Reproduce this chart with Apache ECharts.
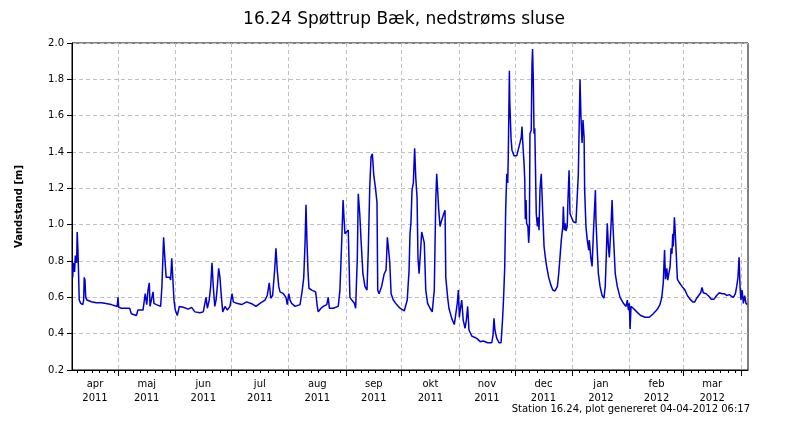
<!DOCTYPE html>
<html>
<head>
<meta charset="utf-8">
<script src="https://cdn.jsdelivr.net/npm/echarts@6/dist/echarts.min.js"></script>
<style>
  html, body { margin: 0; padding: 0; background: #fff; }
  #chart { width: 800px; height: 425px; }
</style>
</head>
<body>
<div id="chart"></div>
<script>
// water level, [days since 2011-04-01, metres]
const levelReadings = [
  // apr - maj
  [5.6,0.71],[5.9,0.79],[6.6,0.74],[7.0,0.83],[7.7,0.79],[8.0,0.96],[8.4,0.86],[8.8,0.71],[9.1,0.585],[9.9,0.567],[11.0,0.56],[11.5,0.585],[11.8,0.71],[12.2,0.695],[12.6,0.60],[13.3,0.585],[15.6,0.576],[18.3,0.57],[21.0,0.57],[22.8,0.567],[26.4,0.56],[29.6,0.55],[30.0,0.60],[30.4,0.545],[31.8,0.54],[36.3,0.54],[37.2,0.51],[39.9,0.50],[40.8,0.53],[43.5,0.53],[44.7,0.62],[45.5,0.56],[46.2,0.64],[46.9,0.68],[47.3,0.55],[48.0,0.585],[48.9,0.63],[49.4,0.567],[50.7,0.56],[53.0,0.55],[53.7,0.66],[54.6,0.93],[55.2,0.93],[55.5,0.78],[56.0,0.71],[57.0,0.70],[57.9,0.71],[58.4,0.695],[59.0,0.815],[59.5,0.805],[60.2,0.585],[60.9,0.53],
  // jun
  [62.0,0.50],[63.1,0.55],[65.2,0.545],[67.9,0.535],[69.7,0.545],[71.5,0.52],[74.2,0.515],[76.0,0.52],[77.5,0.60],[78.2,0.54],[79.2,0.585],[80.0,0.66],[80.7,0.79],[81.4,0.66],[82.2,0.55],[82.9,0.585],[83.6,0.66],[84.3,0.76],[85.0,0.71],[85.7,0.61],[86.5,0.52],[87.7,0.55],[89.0,0.53],[90.4,0.55],
  // jul
  [91.5,0.62],[92.2,0.575],[94.0,0.567],[96.7,0.56],[99.4,0.575],[102.1,0.565],[104.4,0.55],[106.6,0.567],[109.3,0.585],[110.5,0.61],[111.6,0.68],[112.4,0.595],[113.4,0.61],[114.5,0.75],[115.2,0.87],[115.9,0.75],[116.7,0.66],[117.4,0.63],[119.2,0.62],[120.6,0.60],[121.3,0.56],
  // aug
  [122.1,0.62],[122.8,0.585],[123.7,0.567],[125.5,0.55],[128.2,0.56],[129.4,0.64],[130.2,0.71],[130.9,0.90],[131.4,1.11],[131.9,0.915],[132.5,0.74],[133.0,0.65],[134.5,0.64],[136.6,0.63],[137.5,0.55],[138.0,0.52],[139.5,0.54],[140.7,0.55],[142.6,0.56],[143.4,0.60],[144.0,0.54],[146.1,0.54],[148.8,0.55],[149.7,0.64],[150.7,0.915],[151.4,1.136],[151.9,1.04],[152.4,0.95],[153.4,0.96],[154.2,0.97],[154.8,0.96],[155.1,0.60],
  // sep
  [156.1,0.585],[157.5,0.567],[158.2,0.54],[158.5,0.64],[159.1,0.82],[159.6,1.17],[160.4,1.06],[161.1,0.915],[162.1,0.73],[163.2,0.66],[164.3,0.64],[165.0,0.86],[165.8,1.21],[166.5,1.374],[167.2,1.39],[167.9,1.28],[169.0,1.19],[169.7,1.12],[170.1,0.64],[170.8,0.62],[172.2,0.66],[173.6,0.73],[174.6,0.75],[175.3,0.93],[175.8,0.88],[176.6,0.79],[177.3,0.62],[178.5,0.585],[180.3,0.56],[182.1,0.54],
  // okt
  [184.4,0.525],[185.3,0.52],[186.0,0.585],[187.0,0.75],[187.5,0.95],[188.0,1.01],[188.6,1.19],[189.3,1.23],[190.0,1.42],[190.6,1.26],[191.3,1.15],[191.8,0.82],[192.4,0.73],[193.1,0.84],[193.8,0.96],[194.5,0.95],[195.2,0.90],[196.0,0.64],[197.0,0.567],[198.3,0.54],[199.5,0.52],[200.6,0.64],[201.4,1.136],[201.9,1.28],[202.4,1.19],[203.0,1.08],[203.7,0.99],[204.6,1.025],[205.7,1.06],[206.4,1.08],[206.8,0.71],[207.8,0.60],[208.5,0.54],[210.0,0.484],[211.4,0.45],[212.3,0.46],[213.0,0.567],[213.6,0.64],
  // nov
  [214.1,0.49],[214.6,0.53],[215.4,0.585],[216.2,0.475],[217.2,0.43],[217.9,0.475],[218.6,0.55],[219.3,0.42],[220.8,0.387],[223.5,0.374],[225.4,0.356],[227.0,0.36],[229.4,0.35],[231.6,0.35],[232.3,0.393],[232.8,0.484],[233.3,0.42],[234.3,0.374],[235.5,0.35],[236.6,0.35],[237.3,0.457],[238.0,0.60],[238.6,0.77],[239.1,1.08],[239.7,1.28],[240.2,1.23],[240.5,1.374],[241.1,1.847],[241.3,1.686],[241.6,1.594],[242.0,1.475],[242.5,1.41],[243.6,1.38],
  // dec
  [245.1,1.38],[246.1,1.39],[246.8,1.45],[247.5,1.48],[247.9,1.54],[248.3,1.456],[249.0,1.34],[249.4,1.245],[249.7,1.03],[250.1,1.136],[250.4,1.007],[251.1,0.99],[251.5,0.90],[251.9,0.97],[252.2,1.50],[252.9,1.52],[253.3,1.88],[253.6,1.967],[254.0,1.80],[254.4,1.50],[254.8,1.53],[255.3,1.52],[255.6,1.06],[256.2,0.99],[256.7,1.04],[257.1,0.97],[257.6,1.19],[258.0,1.245],[258.3,1.28],[258.7,1.17],[259.1,1.06],[259.8,0.88],[260.5,0.82],[261.2,0.77],[262.3,0.71],[263.4,0.67],[264.5,0.64],[265.7,0.635],[267.0,0.66],[267.7,0.73],[268.4,0.82],[269.1,0.915],[269.9,0.99],[270.2,1.10],[270.7,0.97],[271.3,1.007],[271.6,0.965],[272.3,0.99],[272.7,1.136],[273.3,1.30],[273.8,1.06],[274.5,1.05],
  // jan
  [275.6,1.016],[277.0,1.01],[277.7,1.016],[278.3,1.28],[278.8,1.576],[279.2,1.80],[279.7,1.594],[280.3,1.45],[280.8,1.576],[281.4,1.48],[281.7,1.19],[282.4,0.99],[283.1,0.915],[283.9,0.86],[284.2,0.915],[285.0,0.82],[285.7,0.77],[286.4,0.95],[286.9,1.06],[287.5,1.19],[287.8,1.025],[288.4,0.88],[289.1,0.73],[290.0,0.66],[291.1,0.61],[292.1,0.595],[292.8,0.66],[293.4,0.84],[293.9,1.007],[294.5,0.88],[295.0,0.82],[295.8,0.97],[296.5,1.136],[297.0,0.99],[297.5,0.88],[298.2,0.73],[299.3,0.66],[300.8,0.60],[302.6,0.567],[304.0,0.55],[304.7,0.585],[305.3,0.53],
  // feb
  [305.8,0.567],[306.2,0.425],[306.7,0.55],[307.9,0.54],[309.8,0.52],[311.9,0.50],[314.3,0.49],[316.6,0.49],[318.7,0.51],[320.9,0.534],[322.3,0.56],[323.3,0.60],[324.1,0.68],[324.8,0.86],[325.3,0.70],[326.0,0.76],[326.5,0.695],[327.1,0.70],[327.8,0.77],[328.3,0.87],[328.8,0.84],[329.2,0.95],[329.5,0.88],[330.1,1.04],[330.4,0.99],[331.0,0.86],[331.7,0.70],[332.8,0.68],[334.2,0.66],
  // mar
  [335.8,0.64],[337.1,0.61],[338.5,0.59],[340.0,0.575],[341.1,0.575],[342.1,0.595],[343.2,0.61],[344.3,0.625],[345.0,0.655],[345.7,0.625],[347.2,0.62],[348.6,0.607],[350.0,0.59],[351.5,0.59],[352.9,0.61],[354.3,0.625],[355.8,0.62],[357.2,0.62],[358.3,0.61],[359.7,0.615],[360.8,0.607],[361.9,0.60],[363.0,0.62],[363.7,0.66],[364.4,0.71],[365.0,0.82],[365.5,0.66],[366.0,0.585],[366.6,0.64],[367.3,0.567],[368.0,0.61],[368.7,0.567],[369.4,0.56]
]

const monthNames = ['jan', 'feb', 'mar', 'apr', 'maj', 'jun', 'jul', 'aug', 'sep', 'okt', 'nov', 'dec']
// [year, month index] of every month boundary shown
const monthStarts = [[2011,4],[2011,5],[2011,6],[2011,7],[2011,8],[2011,9],[2011,10],[2011,11],[2012,0],[2012,1],[2012,2],[2012,3]]
const minorTickDays = [4, 8, 12, 16, 20, 24, 28]
const yMin = 0.2
const yMax = 2.0
const yStep = 0.2

const DAY = 86400000
const base = Date.UTC(2011, 3, 1)
const xMin = base + 5.2 * DAY
const xMax = base + 369.8 * DAY

const seriesData = levelReadings.map(r => [base + r[0] * DAY, r[1]])
const majorTicks = monthStarts.map(m => Date.UTC(m[0], m[1], 1))

// label in the middle of each whole (or first, partial) month
const labelValues = []
const edges = [xMin].concat(majorTicks)
for (let i = 0; i < edges.length - 1; i++) {
  labelValues.push((edges[i] + edges[i + 1]) / 2)
}
const minorTicks = []
const firstMonths = [[2011,3]].concat(monthStarts)
firstMonths.forEach(m => {
  minorTickDays.forEach(d => {
    const t = Date.UTC(m[0], m[1], d + 1)
    if (t > xMin && t < xMax && new Date(t).getUTCMonth() === m[1]) minorTicks.push(t)
  })
})

const font = 'DejaVu Sans'
const chart = echarts.init(document.getElementById('chart'))

chart.setOption({
  animation: false,
  backgroundColor: '#fff',
  grid: {
    left: 72,
    right: 52,
    top: 43,
    bottom: 55,
    show: true,
    borderColor: '#000',
    borderWidth: 1
  },
  graphic: [
    {
      type: 'text',
      x: 404,
      y: 20,
      style: {
        text: '16.24 Spøttrup Bæk, nedstrøms sluse',
        font: '17px "' + font + '"',
        fill: '#000',
        align: 'center',
        verticalAlign: 'middle'
      }
    },
    {
      type: 'text',
      x: 750,
      y: 409,
      style: {
        text: 'Station 16.24, plot genereret 04-04-2012 06:17',
        font: '10px "' + font + '"',
        fill: '#000',
        align: 'right',
        verticalAlign: 'middle'
      }
    }
  ],
  xAxis: [
    {
      type: 'value',
      min: xMin,
      max: xMax,
      axisLine: { onZero: false, lineStyle: { color: '#000', width: 1 } },
      axisTick: {
        customValues: majorTicks,
        length: 6,
        lineStyle: { color: '#000' }
      },
      axisLabel: {
        customValues: labelValues,
        color: '#000',
        fontFamily: font,
        fontSize: 10,
        lineHeight: 14,
        margin: 7,
        formatter: v => {
          const d = new Date(v)
          return monthNames[d.getUTCMonth()] + '\n' + d.getUTCFullYear()
        }
      },
      splitLine: {
        show: true,
        lineStyle: { color: '#c0c0c0', type: [4, 3], width: 1 }
      }
    },
    {
      type: 'value',
      position: 'bottom',
      min: xMin,
      max: xMax,
      axisLine: { show: false, onZero: false },
      axisTick: {
        customValues: minorTicks,
        length: 3,
        lineStyle: { color: '#000' }
      },
      axisLabel: { show: false },
      splitLine: { show: false }
    }
  ],
  yAxis: {
    type: 'value',
    min: yMin,
    max: yMax,
    interval: yStep,
    name: 'Vandstand [m]',
    nameLocation: 'middle',
    nameGap: 48,
    nameTextStyle: { fontFamily: font, fontSize: 10, fontWeight: 'bold', color: '#000' },
    axisLine: { show: true, lineStyle: { color: '#000', width: 1 } },
    axisTick: { show: true, length: 5, lineStyle: { color: '#000' } },
    axisLabel: {
      color: '#000',
      fontFamily: font,
      fontSize: 10,
      margin: 8,
      formatter: v => v.toFixed(1)
    },
    splitLine: {
      show: true,
      lineStyle: { color: '#c0c0c0', type: [4, 3], width: 1 }
    }
  },
  series: [
    {
      name: 'Vandstand',
      type: 'line',
      xAxisIndex: 0,
      data: seriesData,
      showSymbol: false,
      symbol: 'none',
      lineStyle: { color: '#0000d0', width: 1.5 },
      z: 3
    }
  ]
})
</script>
</body>
</html>
